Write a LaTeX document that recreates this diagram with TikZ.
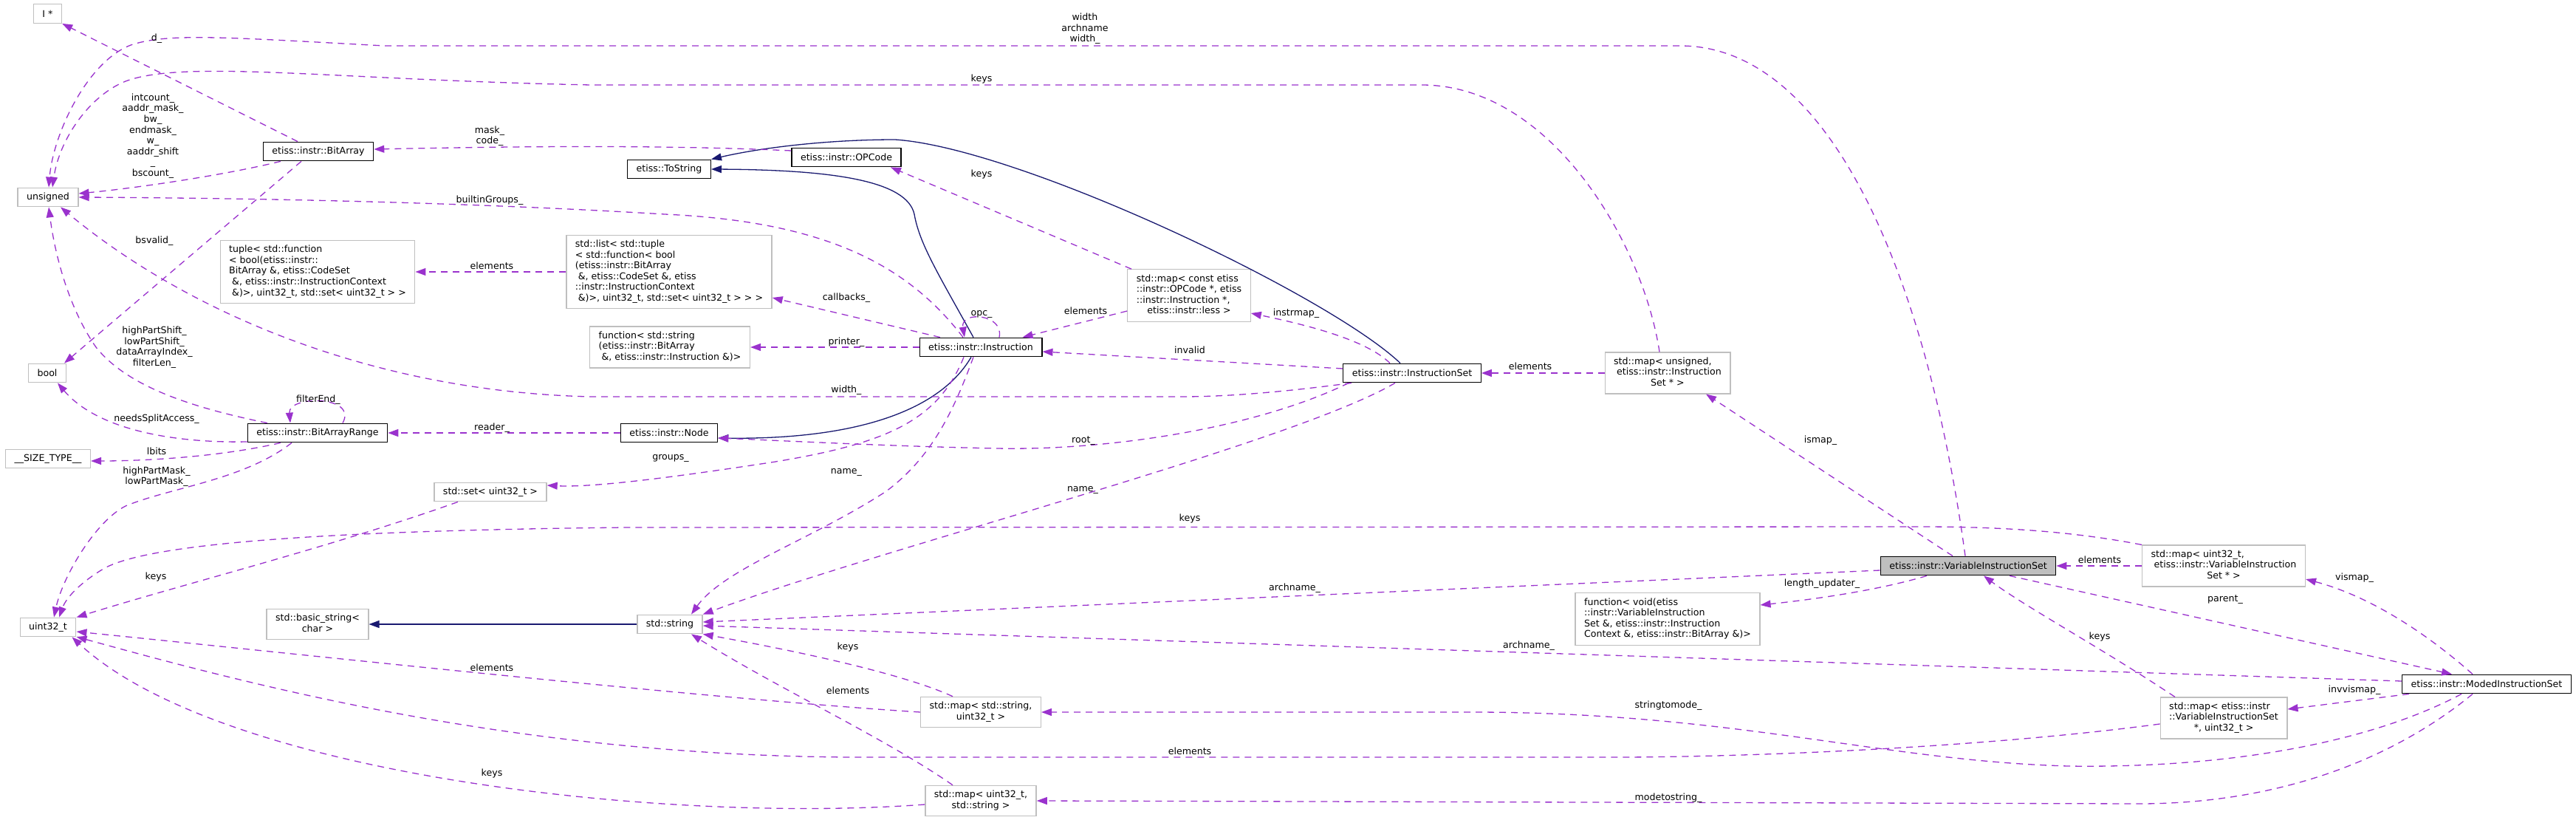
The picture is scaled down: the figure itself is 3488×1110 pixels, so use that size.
\documentclass[tikz,border=0pt]{standalone}
\usepackage{fontspec}
\setmainfont{DejaVu Sans}
\usetikzlibrary{arrows.meta}
\definecolor{eMember}{RGB}{154, 50, 205}
\definecolor{eInherit}{RGB}{25, 25, 112}
\definecolor{bGray}{RGB}{191, 191, 191}
\definecolor{cSel}{RGB}{191, 191, 191}
\newcommand{\mlbox}[1]{\begin{tabular}{@{}l@{}}#1\end{tabular}}
\newcommand{\lastln}[1]{\multicolumn{1}{@{}c@{}}{#1}}

\begin{document}
\begin{tikzpicture}[
    x=1pt, y=-1pt,
    font=\fontsize{12.6}{14.6}\selectfont,
    block/.style={
        draw=#1,
        fill=white,
        line width=1.3pt,
        inner xsep=12pt,
        inner ysep=6pt,
        minimum height=25.5pt
    },
    block/.default=bGray,
    lbl/.style={align=center, inner sep=0pt},
    member/.style={-{Triangle[length=14pt, width=10pt]}, draw=eMember, line width=1.3pt, dash pattern=on 9pt off 7pt},
    inherit/.style={-{Triangle[length=14pt, width=10pt]}, draw=eInherit, line width=1.3pt}
]
\useasboundingbox (0,0) rectangle (3488,1110);

% plain types
\node[block] (iptr) at (64.5,18.5) {I *};
\node[block] (unsig) at (65,267) {unsigned};
\node[block] (bool) at (64,505) {bool};
\node[block] (sizet) at (65,621) {\_\_SIZE\_TYPE\_\_};
\node[block] (u32) at (65,849) {uint32\_t};

\node[block=black] (bitarray) at (431,205) {etiss::instr::BitArray};
\node[block=black] (bar) at (430,586) {etiss::instr::BitArrayRange};
\node[block] (tuple) at (430,368) {\mlbox{tuple< std::function\\< bool(etiss::instr::\\BitArray \&, etiss::CodeSet\\~\&, etiss::instr::InstructionContext\\\lastln{~\&)>, uint32\_t, std::set< uint32\_t > >}}};
\node[block] (bstr) at (430,845) {\mlbox{std::basic\_string<\\\lastln{char >}}};

\node[block=black] (tostr) at (906,229) {etiss::ToString};
\node[block=black] (opcode) at (1146,213) {etiss::instr::OPCode};
\node[block] (cblist) at (906,368) {\mlbox{std::list< std::tuple\\< std::function< bool\\(etiss::instr::BitArray\\~\&, etiss::CodeSet \&, etiss\\::instr::InstructionContext\\\lastln{~\&)>, uint32\_t, std::set< uint32\_t > > >}}};
\node[block] (prfun) at (907,470) {\mlbox{function< std::string\\(etiss::instr::BitArray\\\lastln{~\&, etiss::instr::Instruction \&)>}}};
\node[block=black] (instr) at (1328,470) {etiss::instr::Instruction};
\node[block=black] (instnode) at (906,586) {etiss::instr::Node};
\node[block] (u32set) at (664,666) {std::set< uint32\_t >};
\node[block] (str) at (907,845) {std::string};
\node[block] (s2m) at (1328,964) {\mlbox{std::map< std::string,\\\lastln{uint32\_t >}}};
\node[block] (m2s) at (1328,1084) {\mlbox{std::map< uint32\_t,\\\lastln{std::string >}}};

\node[block] (instmap) at (1610,400) {\mlbox{std::map< const etiss\\::instr::OPCode *, etiss\\::instr::Instruction *,\\\lastln{etiss::instr::less >}}};
\node[block=black] (iset) at (1912,505) {etiss::instr::InstructionSet};
\node[block] (ismap) at (2258,505) {\mlbox{std::map< unsigned,\\~etiss::instr::Instruction\\\lastln{Set * >}}};
\node[block] (lufun) at (2258,838) {\mlbox{function< void(etiss\\::instr::VariableInstruction\\Set \&, etiss::instr::Instruction\\\lastln{Context \&, etiss::instr::BitArray \&)>}}};
\node[block=black, fill=cSel] (vis) at (2665,766) {etiss::instr::VariableInstructionSet};
\node[block] (vismap) at (3011,766) {\mlbox{std::map< uint32\_t,\\~etiss::instr::VariableInstruction\\\lastln{Set * >}}};
\node[block] (invmap) at (3011,972) {\mlbox{std::map< etiss::instr\\::VariableInstructionSet\\\lastln{*, uint32\_t >}}};
\node[block=black] (mis) at (3367,926) {etiss::instr::ModedInstructionSet};

% inheritance
\draw[inherit] ([xshift=-10pt]instr.north) .. controls (1270,370) and (1245,330) .. (1238,290) .. controls (1228,245) and (1130,230) .. (tostr.east);
\draw[inherit] ([xshift=-16pt]iset.north) .. controls (1800,400) and (1380,200) .. (1212,189) .. controls (1120,189) and (1030,200) .. (tostr.north east);
\draw[inherit] ([xshift=-13pt]instr.south) .. controls (1270,560) and (1150,595) .. ([yshift=-7pt]instnode.east);
\draw[inherit] (str.west) -- (bstr.east);

% members
\draw[member] ([xshift=-28pt]bitarray.north) -- (iptr.south east);
\draw[member] ([xshift=-51pt]bitarray.south) .. controls (300,238) and (180,255) .. ([yshift=5pt]unsig.east);
\draw[member] ([xshift=-4pt]vis.north) .. controls (2610,380) and (2480,62) .. (2275,62) -- (520,62) .. controls (300,50) and (230,45) .. (180,60) .. controls (120,80) and (72,180) .. ([xshift=1pt]unsig.north);
\draw[member] ([xshift=-11pt]ismap.north) .. controls (2225,330) and (2100,115) .. (1925,115) -- (800,115) .. controls (450,108) and (250,80) .. (170,110) .. controls (120,130) and (80,190) .. ([xshift=6pt]unsig.north);
\draw[member] ([xshift=-24pt]instr.north) .. controls (1230,360) and (1120,300) .. (900,290) .. controls (600,272) and (300,268) .. (unsig.east);
\draw[member] ([xshift=12pt]iset.south west) .. controls (1720,533) and (1650,537) .. (1600,537) -- (800,537) .. controls (500,530) and (250,420) .. ([xshift=17pt]unsig.south);
\draw[member] ([xshift=-68pt]bar.north) .. controls (250,550) and (170,520) .. (130,470) .. controls (95,420) and (75,350) .. ([xshift=1pt]unsig.south);
\draw[member] ([xshift=-23pt]bitarray.south) -- ([xshift=23pt]bool.north);
\draw[member] ([yshift=-12pt]bar.west) .. controls (230,600) and (130,580) .. ([xshift=14pt]bool.south);
\draw[member] ([xshift=-50pt]bar.south) .. controls (300,618) and (200,624) .. ([yshift=-3pt]sizet.east);
\draw[member] ([xshift=-35pt]bar.south) .. controls (330,650) and (230,660) .. (170,685) .. controls (130,705) and (85,780) .. ([xshift=8pt]u32.north);
\draw[member] ([xshift=34pt]bar.north) .. controls (485,535) and (390,535) .. ([xshift=-37pt]bar.north);
\draw[member] (instnode.west) -- (bar.east);
\draw[member] ([xshift=-44pt]u32set.south) .. controls (450,740) and (250,790) .. (u32.north east);
\draw[member] (vismap.north west) .. controls (2800,718) and (2700,713) .. (2600,713) -- (850,714) .. controls (450,718) and (200,735) .. (140,770) .. controls (110,788) and (90,808) .. ([xshift=15pt]u32.north);
\draw[member] (s2m.west) .. controls (950,945) and (450,890) .. ([yshift=-6pt]u32.east);
\draw[member] ([yshift=-8pt]invmap.west) .. controls (2700,1010) and (2400,1024) .. (2200,1025) -- (1150,1025) .. controls (700,1022) and (350,930) .. ([yshift=-13pt]u32.east);
\draw[member] ([yshift=-5pt]m2s.west) .. controls (900,1115) and (300,1050) .. ([xshift=-6pt]u32.south east);
\draw[member] ([xshift=-10pt]instr.south) .. controls (1290,560) and (1260,620) .. (1200,665) .. controls (1100,730) and (980,770) .. ([xshift=29pt]str.north);
\draw[member] ([xshift=-23pt]instr.south) .. controls (1270,570) and (1200,600) .. (1050,625) .. controls (900,648) and (800,660) .. ([yshift=9pt]u32set.east);
\draw[member] ([xshift=-23pt]iset.south) .. controls (1750,600) and (1200,740) .. (str.north east);
\draw[member] ([xshift=8pt]iset.south west) .. controls (1700,580) and (1500,610) .. (1350,607) .. controls (1200,604) and (1050,596) .. ([yshift=-7pt]instnode.east);
\draw[member] ([yshift=-6pt]vis.west) -- ([yshift=3pt]str.east);
\draw[member] ([yshift=4pt]mis.west) -- ([yshift=-2pt]str.east);
\draw[member] ([xshift=-34pt]mis.south) .. controls (3200,1010) and (3000,1040) .. (2800,1037) .. controls (2550,1030) and (2350,965) .. (2000,964) -- (s2m.east);
\draw[member] ([xshift=-19pt]mis.south) .. controls (3250,1020) and (3100,1087) .. (2900,1088) -- (m2s.east);
\draw[member] ([xshift=56pt]vis.south) -- ([xshift=-47pt]mis.north);
\draw[member] ([xshift=-19pt]mis.north) .. controls (3300,870) and (3220,810) .. ([yshift=-18pt]vismap.east);
\draw[member] ([xshift=10pt]mis.south west) -- ([yshift=12pt]invmap.east);
\draw[member] (vismap.west) -- (vis.east);
\draw[member] ([xshift=-66pt]invmap.north) .. controls (2850,880) and (2740,820) .. ([xshift=21pt]vis.south);
\draw[member] ([xshift=-21pt]vis.north) -- ([xshift=52pt]ismap.south);
\draw[member] ([xshift=-56pt]vis.south) .. controls (2540,800) and (2450,812) .. ([yshift=19pt]lufun.east);
\draw[member] (ismap.west) -- (iset.east);
\draw[member] ([xshift=-30pt]iset.north) .. controls (1850,460) and (1770,440) .. ([yshift=-24pt]instmap.east);
\draw[member] ([yshift=6pt]iset.west) -- ([yshift=-6pt]instr.east);
\draw[member] ([yshift=-21pt]instmap.west) -- ([xshift=-27pt]instr.north east);
\draw[member] ([xshift=-78pt]instmap.north) -- ([xshift=60pt]opcode.south);
\draw[member] ([xshift=25pt]instr.north) .. controls (1360,425) and (1300,420) .. ([xshift=-22pt]instr.north);
\draw[member] ([yshift=9pt]opcode.west) .. controls (900,196) and (700,198) .. ([yshift=3pt]bitarray.east);
\draw[member] ([xshift=-55pt]instr.north) -- ([yshift=-35pt]cblist.east);
\draw[member] (instr.west) -- (prfun.east);
\draw[member] (cblist.west) -- (tuple.east);
\draw[member] ([xshift=-38pt]s2m.north) .. controls (1230,915) and (1100,885) .. (str.south east);
\draw[member] ([xshift=-38pt]m2s.north) .. controls (1200,1000) and (1050,930) .. ([xshift=29pt]str.south);

% edge labels
\node[lbl] (lD) at (212,52) {d\_};
\node[lbl] (lIntcount) at (207,184) {intcount\_\\aaddr\_mask\_\\bw\_\\endmask\_\\w\_\\aaddr\_shift\\\_\\bscount\_};
\node[lbl] (lBuiltin) at (663,271) {builtinGroups\_};
\node[lbl] (lBsvalid) at (209,326) {bsvalid\_};
\node[lbl] (lMask) at (663,184) {mask\_\\code\_};
\node[lbl] (lTupleEl) at (666,360) {elements};
\node[lbl] (lShift) at (209,470) {highPartShift\_\\lowPartShift\_\\dataArrayIndex\_\\filterLen\_};
\node[lbl] (lFilterEnd) at (431,541) {filterEnd\_};
\node[lbl] (lSplit) at (212,567) {needsSplitAccess\_};
\node[lbl] (lLbits) at (212,611) {lbits};
\node[lbl] (lPartMask) at (212,645) {highPartMask\_\\lowPartMask\_};
\node[lbl] (lReader) at (666,579) {reader\_};
\node[lbl] (lSetKeys) at (211,781) {keys};
\node[lbl] (lS2mEl) at (666,904) {elements};
\node[lbl] (lM2sKeys) at (666,1047) {keys};
\node[lbl] (lOpKeys) at (1329,236) {keys};
\node[lbl] (lCallbacks) at (1146,403) {callbacks\_};
\node[lbl] (lOpc) at (1329,425) {opc\_};
\node[lbl] (lInstEl) at (1470,421) {elements};
\node[lbl] (lInstrmap) at (1755,424) {instrmap\_};
\node[lbl] (lPrinter) at (1146,463) {printer\_};
\node[lbl] (lInvalid) at (1611,474) {invalid};
\node[lbl] (lWidth) at (1146,528) {width\_};
\node[lbl] (lRoot) at (1467,597) {root\_};
\node[lbl] (lGroups) at (908,620) {groups\_};
\node[lbl] (lNameA) at (1146,639) {name\_};
\node[lbl] (lNameB) at (1466,663) {name\_};
\node[lbl] (lVisKeys) at (1611,702) {keys};
\node[lbl] (lArchA) at (1753,796) {archname\_};
\node[lbl] (lS2mKeys) at (1148,876) {keys};
\node[lbl] (lM2sEl) at (1148,935) {elements};
\node[lbl] (lInvEl) at (1611,1017) {elements};
\node[lbl] (lTop) at (1469,39) {width\\archname\\width\_};
\node[lbl] (lIsKeys) at (1329,107) {keys};
\node[lbl] (lIsEl) at (2072,496) {elements};
\node[lbl] (lIsmap) at (2465,596) {ismap\_};
\node[lbl] (lVisEl) at (2843,758) {elements};
\node[lbl] (lUpdater) at (2467,790) {length\_updater\_};
\node[lbl] (lInvKeys) at (2843,862) {keys};
\node[lbl] (lArchB) at (2070,874) {archname\_};
\node[lbl] (lS2mode) at (2259,955) {stringtomode\_};
\node[lbl] (lM2str) at (2259,1080) {modetostring\_};
\node[lbl] (lVismap) at (3188,782) {vismap\_};
\node[lbl] (lParent) at (3013,812) {parent\_};
\node[lbl] (lInvvis) at (3188,934) {invvismap\_};

\end{tikzpicture}
\end{document}
